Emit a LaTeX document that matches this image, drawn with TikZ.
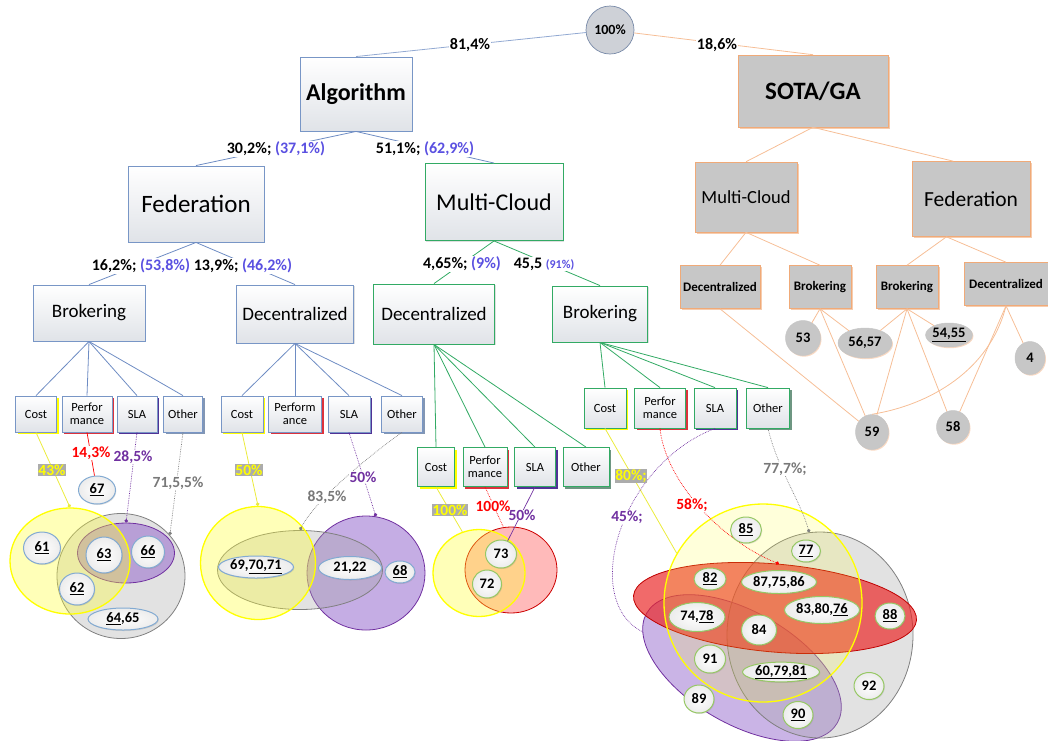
\documentclass[tikz,border=0pt]{standalone}
\usepackage{fontspec}
\setmainfont{Carlito}
\usetikzlibrary{shapes.geometric,shadows,arrows.meta}

\definecolor{fedblue}{RGB}{120,150,198}
\definecolor{fedline}{RGB}{110,140,195}
\definecolor{mcgreen}{RGB}{50,170,100}
\definecolor{sotaline}{RGB}{246,190,150}
\definecolor{sotaedge}{RGB}{240,170,120}
\definecolor{sotafill}{RGB}{199,199,199}
\definecolor{rootfill}{RGB}{206,209,215}
\definecolor{rootedge}{RGB}{120,138,168}
\definecolor{pctblue}{RGB}{90,80,225}
\definecolor{slapurple}{RGB}{112,48,160}
\definecolor{labgray}{RGB}{120,120,120}
\definecolor{hiyellow}{RGB}{255,255,0}
\definecolor{yline}{RGB}{235,235,60}
\definecolor{boxbottom}{RGB}{224,227,232}
\definecolor{numblue}{RGB}{130,170,210}
\definecolor{numgreen}{RGB}{150,200,100}
\definecolor{perfcol}{RGB}{220,50,60}
\definecolor{slacol}{RGB}{80,50,150}
\definecolor{othercol}{RGB}{130,150,180}
\definecolor{othergreen}{RGB}{110,150,130}
\definecolor{venngray}{RGB}{165,165,165}
\definecolor{vennpurple}{RGB}{150,105,205}
\definecolor{vennred}{RGB}{235,35,35}

\tikzset{
  sz/.style 2 args={minimum width=#1pt, minimum height=#2pt},
  fs/.style={font=\fontsize{#1}{#1}\selectfont},
  fsb/.style={font=\fontsize{#1}{#1}\selectfont\bfseries},
  rootc/.style={circle, minimum size=48pt, inner sep=0pt, draw=rootedge, line width=.7pt,
    fill=rootfill, fsb=14},
  algbox/.style={rectangle, draw=#1, line width=0.9pt, top color=white, bottom color=boxbottom,
    inner sep=0pt, align=center,
    drop shadow={shadow xshift=1.2pt, shadow yshift=-1.2pt, opacity=0.25}},
  sotabox/.style={rectangle, draw=sotaedge, line width=0.6pt, fill=sotafill, inner sep=0pt, align=center,
    drop shadow={shadow xshift=1.5pt, shadow yshift=-1.5pt, fill=sotaedge, opacity=0.6}},
  crit/.style 2 args={rectangle, draw=#1, line width=0.8pt, top color=white, bottom color=boxbottom,
    inner sep=0pt, align=center, font=\fontsize{12.5}{13}\selectfont,
    drop shadow={shadow xshift=2pt, shadow yshift=-2pt, fill=#2, opacity=1}},
  numf/.style={ellipse, draw=numblue, line width=1pt, inner color=white, outer color=gray!15,
    inner sep=0pt, font=\fontsize{14.5}{15}\selectfont\bfseries,
    drop shadow={shadow xshift=0.8pt, shadow yshift=-1pt, opacity=.25}},
  numm/.style={numf, draw=numgreen},
  snum/.style={ellipse, fill=sotafill, draw=gray!45, line width=.5pt, inner sep=0pt,
    font=\fontsize{14.5}{15}\selectfont\bfseries,
    drop shadow={shadow xshift=1pt, shadow yshift=-1.2pt, fill=sotaedge, opacity=.45}},
  vyellow/.style={ellipse, draw=hiyellow, line width=1.3pt, fill=hiyellow!80, fill opacity=.35, inner sep=0pt},
  vgray/.style={ellipse, draw=gray, line width=.8pt, fill=venngray, fill opacity=.32, inner sep=0pt},
  vpurple/.style={ellipse, draw=slapurple, line width=.8pt, fill=vennpurple, fill opacity=.55, inner sep=0pt},
  vred/.style={ellipse, draw=red!75!black, line width=.8pt, fill=vennred, fill opacity=.68, inner sep=0pt},
  vpink/.style={ellipse, draw=red!80!black, line width=.8pt, fill=red!45, fill opacity=.6, inner sep=0pt},
  fl/.style={draw=fedline, line width=.8pt},
  ml/.style={draw=mcgreen, line width=.8pt},
  sl/.style={draw=sotaline, line width=.8pt},
  yl/.style={draw=yline, line width=.8pt},
  rl/.style={draw=red, line width=.7pt},
  pl/.style={draw=slapurple, line width=.7pt},
  gl/.style={draw=gray, line width=.7pt},
  tipdot/.style={-{Circle[length=3.5pt]}},
  pct/.style={fill=white, inner sep=0.5pt, font=\fontsize{16}{17}\selectfont\bfseries},
  vlab/.style={fill=white, inner sep=0.3pt, font=\fontsize{15.5}{16}\selectfont\bfseries},
  hlab/.style={vlab, fill=gray!65, text=hiyellow},
}

\begin{document}
\begin{tikzpicture}[x=1pt,y=-1pt]
\useasboundingbox (0,0) rectangle (1048,740);

% ---------------- upper tree ----------------
\node[rootc] (root) at (610,30) {100\%};
\node[algbox=fedblue, sz={112}{74}, fsb=24] (alg) at (356,94) {Algorithm};
\node[sotabox, sz={150}{72}, fsb=25] (sota) at (813,91) {SOTA/GA};

\node[algbox=fedblue, sz={136}{76}, fs=25] (fed) at (196,204) {Federation};
\node[algbox=mcgreen, sz={138}{77}, fs=24] (mc) at (494,202) {Multi-Cloud};

\node[algbox=fedblue, sz={112}{56}, fs=19] (fbro) at (89,313) {Brokering};
\node[algbox=fedblue, sz={117}{58}, fs=19] (fdec) at (295,314) {Decentralized};
\node[algbox=mcgreen, sz={121}{60}, fs=19] (mdec) at (434,314) {Decentralized};
\node[algbox=mcgreen, sz={95}{56}, fs=19] (mbro) at (600,314) {Brokering};

\node[sotabox, sz={102}{70}, fs=18.5] (smc) at (746,197) {Multi-Cloud};
\node[sotabox, sz={118}{75}, fs=21.5] (sfed) at (971,199) {Federation};
\node[sotabox, sz={80}{43}, fsb=13] (sdec1) at (720,287) {Decentralized};
\node[sotabox, sz={62}{43}, fsb=13] (sbro1) at (820,287) {Brokering};
\node[sotabox, sz={62}{43}, fsb=13] (sbro2) at (907,287) {Brokering};
\node[sotabox, sz={84}{43}, fsb=13] (sdec2) at (1006,284) {Decentralized};

% ---------------- criteria boxes ----------------
\node[crit={fedblue}{hiyellow}, sz={41}{36}] (c1) at (36,414) {Cost};
\node[crit={fedblue}{perfcol}, sz={50}{36}] (p1) at (87,414) {Perfor\\mance};
\node[crit={fedblue}{slacol}, sz={40}{36}] (s1) at (137,414) {SLA};
\node[crit={fedblue}{othercol}, sz={39}{36}] (o1) at (183,414) {Other};

\node[crit={fedblue}{hiyellow}, sz={42}{36}] (c2) at (242,414) {Cost};
\node[crit={fedblue}{perfcol}, sz={53}{36}] (p2) at (295,414) {Perform\\ance};
\node[crit={fedblue}{slacol}, sz={42}{36}] (s2) at (349,414) {SLA};
\node[crit={fedblue}{othercol}, sz={41}{36}] (o2) at (402,414) {Other};

\node[crit={mcgreen}{hiyellow}, sz={37}{39}] (c3) at (436,467) {Cost};
\node[crit={mcgreen}{perfcol}, sz={44}{39}] (p3) at (485,467) {Perfor\\mance};
\node[crit={mcgreen}{slacol}, sz={41}{39}] (s3) at (535,467) {SLA};
\node[crit={mcgreen}{othergreen}, sz={46}{39}] (o3) at (586,467) {Other};

\node[crit={mcgreen}{hiyellow}, sz={42}{40}] (c4) at (605,408) {Cost};
\node[crit={mcgreen}{perfcol}, sz={51}{40}] (p4) at (660,408) {Perfor\\mance};
\node[crit={mcgreen}{slacol}, sz={42}{40}] (s4) at (715,408) {SLA};
\node[crit={mcgreen}{othergreen}, sz={43}{40}] (o4) at (768,408) {Other};

% ---------------- tree connectors ----------------
\draw[fl, draw=fedline!75] (root) -- (alg.north);
\draw[sl] (root) -- (sota.north);
\draw[fl] (alg.south) -- (fed.north);
\draw[fl] (alg.south) -- (mc.north);
\draw[fl] (fed.south) -- (fbro.north);
\draw[fl] (fed.south) -- (fdec.north);
\draw[ml] (mc.south) -- (mdec.north);
\draw[ml] (mc.south) -- (mbro.north);

\foreach \k in {c1,p1,s1,o1} \draw[fl] (fbro.south) -- (\k.north);
\foreach \k in {c2,p2,s2,o2} \draw[fl] (fdec.south) -- (\k.north);
\foreach \k in {c3,p3,s3,o3} \draw[ml] (mdec.south) -- (\k.north);
\foreach \k in {c4,p4,s4,o4} \draw[ml] (mbro.south) -- (\k.north);

\draw[sl] (sota.south) -- (smc.north);
\draw[sl] (sota.south) -- (sfed.115);
\draw[sl] (smc.south) -- (sdec1.north);
\draw[sl] (smc.south) -- (sbro1.north);
\draw[sl] (sfed.237) -- (sbro2.north);
\draw[sl] (sfed.237) -- (sdec2.north);

% ---------------- tree percentages ----------------
\node[pct] (l814) at (470,45) {81,4\%};
\node[pct] (l186) at (717,45) {18,6\%};
\node[pct] (lfed) at (276,149) {30,2\%; \textcolor{pctblue}{(37,1\%)}};
\node[pct] (lmc) at (425,149) {51,1\%; \textcolor{pctblue}{(62,9\%)}};
\node[pct] (lfbro) at (141,266) {16,2\%; \textcolor{pctblue}{(53,8\%)}};
\node[pct] (lfdec) at (243,266) {13,9\%; \textcolor{pctblue}{(46,2\%)}};
\node[pct] (lmdec) at (462,264) {4,65\%; \textcolor{pctblue}{(9\%)}};
\node[pct] (lmbro) at (544,264) {45,5 {\fontsize{12}{13}\selectfont\textcolor{pctblue}{(91\%)}}};

% ---------------- state of the art circles ----------------
\node[snum, sz={35}{35}] (n53) at (803,338) {53};
\node[snum, sz={54}{30}] (n5657) at (865,343) {56,57};
\node[snum, sz={42}{24}] (n5455) at (949,335) {\underline{54,55}};
\node[snum, sz={30}{33}] (n4) at (1030,358) {4};
\node[snum, sz={33}{35}] (n59) at (872,432) {59};
\node[snum, sz={33}{33}] (n58) at (953,427) {58};

\draw[sl] (sdec1.south) -- (n59);
\draw[sl] (sbro1.south) -- (n53);
\draw[sl] (sbro1.south) -- (n5657);
\draw[sl] (sbro1.south) -- (n59);
\draw[sl] (sbro2.south) -- (n5657);
\draw[sl] (sbro2.south) -- (n5455);
\draw[sl] (sbro2.south) -- (n59);
\draw[sl] (sbro2.south) -- (n58);
\draw[sl] (sdec2.south) -- (n4);
\draw[sl] (sdec2.south) -- (n58);
\draw[sl] (sdec2.south) .. controls (990,370) and (930,405) .. (n59.north);

% ---------------- Federation / Brokering sets ----------------
\node[vgray, sz={128}{125}] (fbG) at (121,576) {};
\node[vpurple, sz={97}{60}] (fbP) at (126,553) {};
\node[vyellow, sz={120}{106}] (fbY) at (70,561) {};

\draw[yl, tipdot] (c1.south) -- (fbY.north);
\draw[pl, densely dotted, tipdot] (s1.south) -- (fbP.north);
\draw[gl, densely dotted, tipdot] (o1.south) -- (fbG.40);

\node[numf, sz={37}{32}] (n61) at (42,548) {\underline{61}};
\node[numf, sz={36}{36}] (n63) at (104,555) {\underline{63}};
\node[numf, sz={33}{32}] (n66) at (148,552) {\underline{66}};
\node[numf, sz={35}{32}] (n62) at (77,589) {\underline{62}};
\node[numf, sz={70}{22}] (n6465) at (123,619) {\underline{64},65};
\node[numf, sz={37}{28}] (n67) at (97,490) {\underline{67}};
\draw[rl] (p1.south) -- (n67);

\node[hlab] (t43) at (52,470) {43\%};
\node[vlab, text=red] (t143) at (91,453) {14,3\%};
\node[vlab, text=slapurple] (t285) at (133,457) {28,5\%};
\node[vlab, text=labgray] (t7155) at (178,483) {71,5,5\%};

% ---------------- Federation / Decentralized sets ----------------
\node[vpurple, sz={118}{114}] (fdP) at (366,573) {};
\node[vgray, sz={165}{79}] (fdG) at (300,570) {};
\node[vyellow, sz={115}{113}] (fdY) at (258,563) {};

\draw[yl, tipdot] (c2.south) -- (fdY.north);
\draw[gl, densely dotted, tipdot] (o2.south) .. controls (370,455) and (315,500) .. (fdG.north);
\draw[pl, densely dotted, tipdot] (s2.south) -- (fdP.80);

\node[numf, sz={75}{22}] (n697071) at (256,567) {69,\underline{70,71}};
\node[numf, sz={63}{23}] (n2122) at (350,568) {21,22};
\node[numf, sz={30}{22}] (n68) at (400,572) {\underline{68}};

\node[hlab] (t50a) at (249,470) {50\%};
\node[vlab, text=labgray] (t835) at (327,497) {83,5\%};
\node[vlab, text=slapurple] (t50b) at (363,477) {50\%};

% ---------------- Multi-Cloud / Decentralized sets ----------------
\node[vpink, sz={92}{86}] (mdR) at (511,570) {};
\node[vyellow, sz={92}{87}] (mdY) at (479,573) {};

\draw[yl] (c3.south) -- (mdY.112);
\draw[rl, densely dotted] (p3.south) -- (mdR.100);

\node[numm, sz={31}{28}] (n73) at (501,554) {73};
\node[numm, sz={29}{28}] (n72) at (487,584) {72};
\draw[pl] (s3.south) -- (n73);

\node[hlab] (t100a) at (450,510) {100\%};
\node[vlab, text=red, inner sep=0pt] (t100b) at (493,506) {100\%};
\node[vlab, text=slapurple, inner sep=0pt] (t50c) at (522,515) {50\%};

% ---------------- Multi-Cloud / Brokering sets ----------------
\node[vpurple, sz={220}{112}, rotate=-30, fill opacity=.5] (mbP) at (742,668) {};
\node[vgray, sz={186}{206}] (mbG) at (820,635) {};
\node[vred, sz={284}{88}, rotate=-5] (mbR) at (775,608) {};
\node[vyellow, sz={198}{198}, fill opacity=.18] (mbY) at (763,603) {};

\draw[yl] (c4.south) -- (mbY.150);
\draw[rl, densely dotted, tipdot] (p4.south) .. controls (665,480) and (720,540) .. (mbR.north);
\draw[pl, densely dotted] (s4.south) .. controls (620,465) and (580,600) .. (mbP.190);
\draw[gl, densely dotted, tipdot] (o4.south) .. controls (778,470) and (800,500) .. (mbG.96);

\node[numm, sz={31}{26}] (n85) at (746,530) {\underline{85}};
\node[numm, sz={29}{22}] (n77) at (806,551) {\underline{77}};
\node[numm, sz={32}{22}] (n82) at (710,579) {\underline{82}};
\node[numm, sz={75}{23}] (n877586) at (779,582) {87,75,86};
\node[numm, sz={56}{29}] (n7478) at (697,617) {74,\underline{78}};
\node[numm, sz={75}{27}] (n838076) at (822,610) {83,80,\underline{76}};
\node[numm, sz={30}{26}] (n88) at (890,616) {\underline{88}};
\node[numm, sz={35}{30}] (n84) at (759,630) {84};
\node[numm, sz={31}{28}] (n91) at (710,659) {91};
\node[numm, sz={77}{19}] (n607981) at (781,672) {\underline{60,79,81}};
\node[numm, sz={30}{27}] (n92) at (869,686) {92};
\node[numm, sz={30}{28}] (n89) at (699,699) {89};
\node[numm, sz={30}{27}] (n90) at (798,715) {\underline{90}};

\node[hlab] (t80) at (631,476) {80\%;};
\node[vlab, text=slapurple] (t45) at (627,517) {45\%;};
\node[vlab, text=red] (t58) at (692,505) {58\%;};
\node[vlab, text=labgray] (t777) at (785,469) {77,7\%;};

\end{tikzpicture}
\end{document}
